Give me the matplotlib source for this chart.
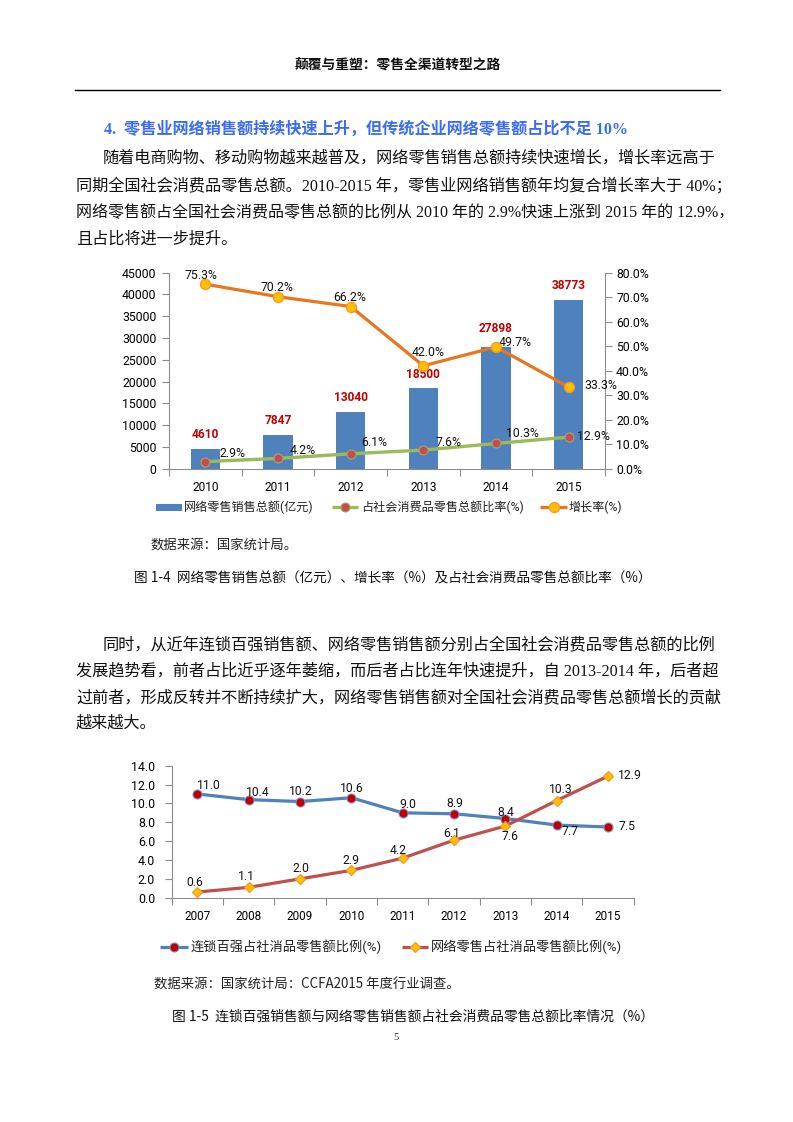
import matplotlib
matplotlib.use('Agg')
import matplotlib.pyplot as plt
import numpy as np
from matplotlib.patches import Rectangle

# ---------------- data ----------------
years1 = ['2010', '2011', '2012', '2013', '2014', '2015']
sales = [4610, 7847, 13040, 18500, 27898, 38773]          # 网络零售销售总额(亿元)
share = [2.9, 4.2, 6.1, 7.6, 10.3, 12.9]                  # 占社会消费品零售总额比率(%)
growth = [75.3, 70.2, 66.2, 42.0, 49.7, 33.3]             # 增长率(%)

years2 = ['2007', '2008', '2009', '2010', '2011', '2012', '2013', '2014', '2015']
chain100 = [11.0, 10.4, 10.2, 10.6, 9.0, 8.9, 8.4, 7.7, 7.5]   # 连锁百强占社消品零售额比例(%)
online = [0.6, 1.1, 2.0, 2.9, 4.2, 6.1, 7.6, 10.3, 12.9]      # 网络零售占社消品零售额比例(%)

legend1 = ['网络零售销售总额(亿元)', '占社会消费品零售总额比率(%)', '增长率(%)']
legend2 = ['连锁百强占社消品零售额比例(%)', '网络零售占社消品零售额比例(%)']

# label offsets in pixels (dx, dy up)
bar_off = [14, 14, 14, 13.5, 19, 14]
growth_off = [(-4, 9), (-1, 9), (-1, 9), (5, 13), (19, 4), (32, 2)]
share_off = [(27, 8), (25, 8), (24, 11), (25, 8), (26, 10), (25, 1)]
chain_off = [(11, 8), (9, 7), (1, 10), (0, 9), (5, 8), (1, 10), (0, 6), (13, -6), (19, 0)]
online_off = [(-3, 10), (-2, 11), (1, 10), (0, 10), (-5, 8), (-2, 7), (5, -10), (4, 11), (22, 1)]

# ---------------- styles ----------------
W, H = 793, 1122
CJK_SANS = ['Noto Sans CJK SC', 'DejaVu Sans']
BODY = ['Liberation Serif', 'Noto Sans CJK SC', 'DejaVu Sans']
CHART = ['Roboto', 'Noto Sans CJK SC', 'DejaVu Sans']
plt.rcParams['font.family'] = CHART

GRAY = '#8C8C8C'
BLUE = '#4F81BD'
GREEN = '#9BBB59'
BROWN = '#C0504D'
ORANGE = '#E8761E'
GOLD = '#FFC000'
DARKRED = '#C00000'

fig = plt.figure(figsize=(W / 100, H / 100), dpi=100)

# page overlay in pixel coordinates
ov = fig.add_axes([0, 0, 1, 1])
ov.set_xlim(0, W)
ov.set_ylim(H, 0)
ov.axis('off')


def rect(l, t, r, b):
    return [l / W, 1 - b / H, (r - l) / W, (b - t) / H]


# ---------------- page text ----------------
ov.text(398, 65, '颠覆与重塑：零售全渠道转型之路', ha='center', va='center',
        fontsize=9.9, weight='bold', family=CJK_SANS, color='#111111')
ov.plot([75, 720], [89.5, 89.5], color='black', lw=1.0)

ov.text(104, 130, '4.  零售业网络销售额持续快速上升，但传统企业网络零售额占比不足 10%',
        ha='left', va='center', fontsize=11.6, weight='bold', family=BODY, color='#3A6CF4')

para = [
    (103, 158.5, 11.65, '随着电商购物、移动购物越来越普及，网络零售销售总额持续快速增长，增长率远高于'),
    (76, 186, 11.65, '同期全国社会消费品零售总额。2010-2015 年，零售业网络销售额年均复合增长率大于 40%；'),
    (76, 213.5, 11.5, '网络零售额占全国社会消费品零售总额的比例从 2010 年的 2.9%快速上涨到 2015 年的 12.9%，'),
    (76, 240, 11.65, '且占比将进一步提升。'),
    (103, 645, 11.65, '同时，从近年连锁百强销售额、网络零售销售额分别占全国社会消费品零售总额的比例'),
    (76, 671.5, 11.65, '发展趋势看，前者占比近乎逐年萎缩，而后者占比连年快速提升，自 2013-2014 年，后者超'),
    (76, 698, 11.65, '过前者，形成反转并不断持续扩大，网络零售销售额对全国社会消费品零售总额增长的贡献'),
    (76, 724, 11.65, '越来越大。'),
]
for x, y, fs, s in para:
    ov.text(x, y, s, ha='left', va='center', fontsize=fs, family=BODY, color='#111111')

ov.text(151, 545, '数据来源：国家统计局。', ha='left', va='center', fontsize=9.6,
        family=CJK_SANS, color='#222222')
ov.text(393, 579, '图 1-4  网络零售销售总额（亿元）、增长率（%）及占社会消费品零售总额比率（%）',
        ha='center', va='center', fontsize=9.85, family=CJK_SANS, color='#111111')

ov.text(154, 984.5, '数据来源：国家统计局：CCFA2015 年度行业调查。', ha='left', va='center',
        fontsize=9.6, family=CJK_SANS, color='#222222')
ov.text(413, 1017, '图 1-5  连锁百强销售额与网络零售销售额占社会消费品零售总额比率情况（%）',
        ha='center', va='center', fontsize=9.95, family=CJK_SANS, color='#111111')
ov.text(396, 1037, '5', ha='center', va='center', fontsize=7.5, family=BODY, color='#222222')

# ---------------- chart 1 ----------------
ax1 = fig.add_axes(rect(169, 272.7, 605, 468.7))
x1 = np.arange(len(years1))
ax1.bar(x1, sales, width=0.4, color=BLUE, zorder=2)
ax1.set_xlim(-0.5, len(years1) - 0.5)
ax1.set_ylim(0, 45000)
ax1.set_yticks(np.arange(0, 45001, 5000))
ax1.set_xticks(x1)
ax1.set_xticklabels(years1)
ax1.set_xticks(np.arange(-0.5, len(years1), 1), minor=True)
ax1.tick_params(axis='x', which='major', length=0, pad=9, labelsize=8.6)
ax1.tick_params(axis='x', which='minor', length=5, width=0.8, color=GRAY, direction='out')
ax1.tick_params(axis='y', length=5, width=0.8, color=GRAY, pad=4, labelsize=8.8)
for s in ['top', 'right']:
    ax1.spines[s].set_visible(False)
for s in ['left', 'bottom']:
    ax1.spines[s].set_color(GRAY)
    ax1.spines[s].set_linewidth(0.8)
for i, v in enumerate(sales):
    ax1.annotate(f'{v}', (x1[i], v), xytext=(0, bar_off[i]), textcoords='offset pixels',
                 ha='center', va='center', color=DARKRED, fontsize=8.6, weight='bold')

ax2 = ax1.twinx()
ax2.set_ylim(0, 80)
ax2.set_yticks(np.arange(0, 81, 10))
ax2.yaxis.set_major_formatter(lambda v, p: f'{v:.1f}%')
ax2.tick_params(axis='y', length=5, width=0.8, color=GRAY, pad=3, labelsize=8.8)
for s in ['top', 'left', 'bottom']:
    ax2.spines[s].set_visible(False)
ax2.spines['right'].set_color(GRAY)
ax2.spines['right'].set_linewidth(0.8)

ax2.plot(x1, share, color=GREEN, lw=2.4, marker='o', ms=6.5, mfc=BROWN, mec='#B3A06A',
         mew=0.8, zorder=3)
ax2.plot(x1, growth, color=ORANGE, lw=2.3, marker='o', ms=7.2, mfc=GOLD, mec='#F39A2B',
         mew=1.0, zorder=4)
for i, v in enumerate(growth):
    dx, dy = growth_off[i]
    ax2.annotate(f'{v:.1f}%', (x1[i], v), xytext=(dx, dy), textcoords='offset pixels',
                 ha='center', va='center', fontsize=8.8, color='#111111')
for i, v in enumerate(share):
    dx, dy = share_off[i]
    ax2.annotate(f'{v:.1f}%', (x1[i], v), xytext=(dx, dy), textcoords='offset pixels',
                 ha='center', va='center', fontsize=8.8, color='#111111')

# legend 1 (drawn in page pixel coordinates)
ly = 507
ov.add_patch(Rectangle((156, ly - 3.5), 26, 7, color=BLUE, lw=0))
ov.text(184, ly, legend1[0], ha='left', va='center', fontsize=8.7, family=CHART, color='#222222')
ov.plot([332, 358], [ly, ly], color=GREEN, lw=2.4, solid_capstyle='butt')
ov.plot([345], [ly], marker='o', ms=6.5, mfc=BROWN, mec='#B3A06A', mew=0.8)
ov.text(361, ly, legend1[1], ha='left', va='center', fontsize=8.7, family=CHART, color='#222222')
ov.plot([540, 567], [ly, ly], color=ORANGE, lw=2.3, solid_capstyle='butt')
ov.plot([553.5], [ly], marker='o', ms=7.2, mfc=GOLD, mec='#F39A2B', mew=1.0)
ov.text(569, ly, legend1[2], ha='left', va='center', fontsize=8.7, family=CHART, color='#222222')

# ---------------- chart 2 ----------------
ax3 = fig.add_axes(rect(171.7, 765.7, 633.7, 897.7))
x2 = np.arange(len(years2))
ax3.plot(x2, chain100, color=BLUE, lw=2.3, marker='o', ms=6.5, mfc=DARKRED, mec='#7E93C8',
         mew=0.8, zorder=3)
ax3.plot(x2, online, color=BROWN, lw=2.3, marker='D', ms=4.8, mfc=GOLD, mec='#F39A2B',
         mew=0.9, zorder=3)
ax3.set_xlim(-0.5, len(years2) - 0.5)
ax3.set_ylim(0, 14)
ax3.set_yticks(np.arange(0, 14.01, 2))
ax3.yaxis.set_major_formatter(lambda v, p: f'{v:.1f}')
ax3.set_xticks(x2)
ax3.set_xticklabels(years2)
ax3.set_xticks(np.arange(-0.5, len(years2), 1), minor=True)
ax3.tick_params(axis='x', which='major', length=0, pad=9, labelsize=8.5)
ax3.tick_params(axis='x', which='minor', length=5, width=0.8, color=GRAY, direction='out')
ax3.tick_params(axis='y', length=5, width=0.8, color=GRAY, pad=7, labelsize=8.9)
for s in ['top', 'right']:
    ax3.spines[s].set_visible(False)
for s in ['left', 'bottom']:
    ax3.spines[s].set_color(GRAY)
    ax3.spines[s].set_linewidth(0.8)
ax3.patch.set_alpha(0)
for i, v in enumerate(chain100):
    dx, dy = chain_off[i]
    ax3.annotate(f'{v:.1f}', (x2[i], v), xytext=(dx, dy), textcoords='offset pixels',
                 ha='center', va='center', fontsize=8.7, color='#111111')
for i, v in enumerate(online):
    dx, dy = online_off[i]
    ax3.annotate(f'{v:.1f}', (x2[i], v), xytext=(dx, dy), textcoords='offset pixels',
                 ha='center', va='center', fontsize=8.7, color='#111111')

# legend 2
ly2 = 947
ov.plot([160, 188], [ly2, ly2], color=BLUE, lw=2.3, solid_capstyle='butt')
ov.plot([174], [ly2], marker='o', ms=6.5, mfc=DARKRED, mec='#7E93C8', mew=0.8)
ov.text(191, ly2, legend2[0], ha='left', va='center', fontsize=9.5, family=CHART, color='#222222')
ov.plot([402, 428], [ly2, ly2], color=BROWN, lw=2.3, solid_capstyle='butt')
ov.plot([415], [ly2], marker='D', ms=4.8, mfc=GOLD, mec='#F39A2B', mew=0.9)
ov.text(431, ly2, legend2[1], ha='left', va='center', fontsize=9.5, family=CHART, color='#222222')

fig.savefig('out.png', dpi=100, facecolor='white')
